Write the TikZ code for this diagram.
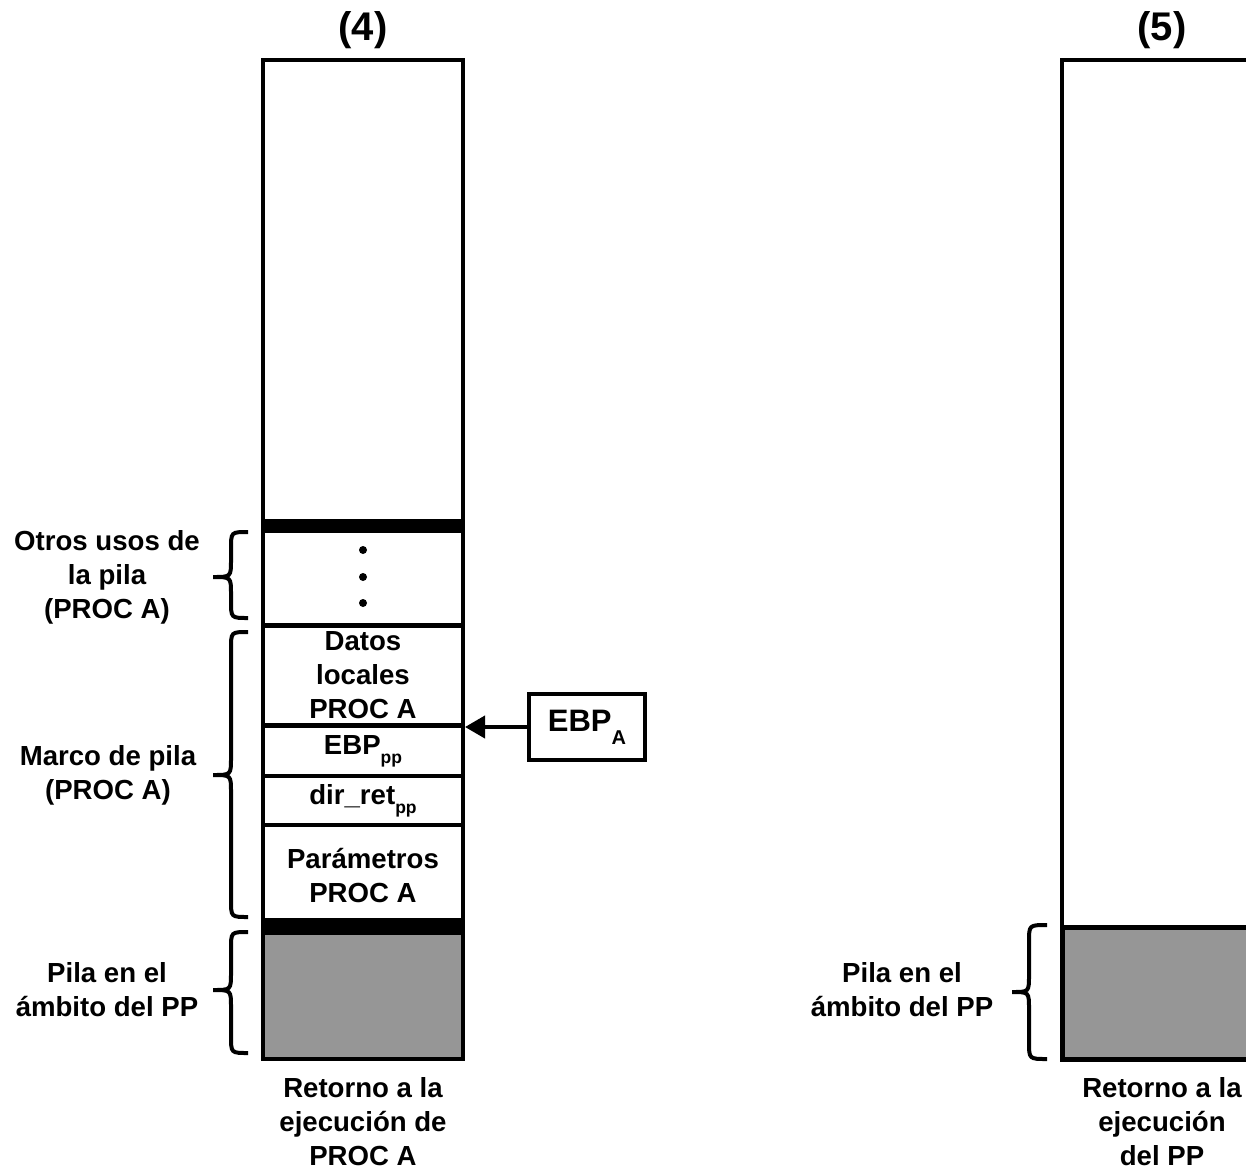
\documentclass[tikz,border=0pt]{standalone}
\usepackage{fontspec}
\setmainfont{Liberation Sans}
\usetikzlibrary{arrows.meta}
\definecolor{stackgray}{RGB}{150,150,150}
\newcommand\lblfont{\bfseries\fontsize{27.6}{34}\selectfont}
\newcommand\titlefont{\bfseries\fontsize{40}{44}\selectfont}
\newcommand\subpp{\raisebox{-9pt}{\fontsize{17.5}{17.5}\selectfont pp}}
\newcommand\subA{\raisebox{-13pt}{\fontsize{20}{20}\selectfont A}}
\begin{document}
\begin{tikzpicture}[x=1pt,y=-1pt,
  cell/.style={draw=black, line width=4pt, minimum width=200pt, inner sep=0pt, align=center, font=\lblfont},
  grey cell/.style={cell, fill=stackgray},
  band/.style={fill=black, draw=none, minimum width=204pt, inner sep=0pt, outer sep=0pt},
  lbl/.style={align=center, font=\lblfont, inner sep=0pt},
  ttl/.style={font=\titlefont, inner sep=0pt},
  bracestyle/.style={line width=4pt},
  pointer/.style={line width=4pt, -{Triangle[length=20pt,width=22pt]}}]
\clip (0,0) rectangle (1246,1170);
\fill[white] (0,0) rectangle (1246,1170);

% ---------- stack (4) ----------
\node[ttl] (t4) at (363,30) {(4)};
\node[cell, minimum height=466pt] (top4) at (363,293) {};
\node[cell, minimum height=100pt] (dots4) at (363,576) {};
\node[cell, minimum height=100pt] (datos4) at (363,675) {Datos\\locales\\PROC A};
\node[cell, minimum height=50pt] (ebppp4) at (363,751) {EBP\subpp};
\node[cell, minimum height=49pt] (dir4) at (363,800.5) {dir\_ret\subpp};
\node[cell, minimum height=101pt] (param4) at (363,875.5) {Parámetros\\PROC A};
\node[grey cell, minimum height=133pt] (gray4) at (363,992.5) {};
\node[band, minimum height=14pt] (band4a) at (363,526) {};
\node[band, minimum height=17pt] (band4b) at (363,926.5) {};

\fill (363,550) circle (4pt);
\fill (363,577) circle (4pt);
\fill (363,603) circle (4pt);

\node[draw=black, line width=4.5pt, minimum width=116pt, minimum height=66pt, inner sep=0pt,
      font=\bfseries\fontsize{31}{31}\selectfont] (ebpA) at (587,727) {EBP\subA};
\draw[pointer] (ebpA.west) -- (ebpA.west -| datos4.east);

\draw[bracestyle] (248,532) .. controls (231,532) .. (231,549) -- (231,560) .. controls (231,577) .. (213,577)
  .. controls (231,577) .. (231,594) -- (231,601) .. controls (231,618) .. (248,618);
\draw[bracestyle] (248,632) .. controls (231,632) .. (231,649) -- (231,758) .. controls (231,775) .. (213,775)
  .. controls (231,775) .. (231,792) -- (231,900) .. controls (231,917) .. (248,917);
\draw[bracestyle] (248,932) .. controls (231,932) .. (231,949) -- (231,973) .. controls (231,990) .. (213,990)
  .. controls (231,990) .. (231,1007) -- (231,1036) .. controls (231,1053) .. (248,1053);

\node[lbl] (otros) at (107,577) {Otros usos de\\la pila\\(PROC A)};
\node[lbl] (marco) at (108,775) {Marco de pila\\(PROC A)};
\node[lbl] (pila4) at (107,990) {Pila en el\\ámbito del PP};
\node[lbl] (ret4) at (363,1122) {Retorno a la\\ejecución de\\PROC A};

% ---------- stack (5) ----------
\node[ttl] (t5) at (1162,30) {(5)};
\node[cell, minimum height=867pt] (top5) at (1162,493.5) {};
\node[grey cell, minimum height=132pt, line width=5pt] (gray5) at (1162,993) {};
\draw[bracestyle] (1047,925) .. controls (1029,925) .. (1029,942) -- (1029,975) .. controls (1029,992) .. (1012,992)
  .. controls (1029,992) .. (1029,1009) -- (1029,1042) .. controls (1029,1059) .. (1047,1059);
\node[lbl] (pila5) at (902,990) {Pila en el\\ámbito del PP};
\node[lbl] (ret5) at (1162,1122) {Retorno a la\\ejecución\\del PP};
\end{tikzpicture}
\end{document}
